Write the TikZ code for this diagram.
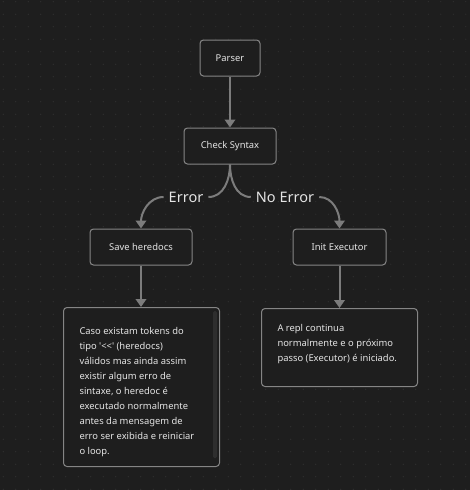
\documentclass[tikz,border=0pt]{standalone}
\usepackage{fontspec}
\setmainfont{Noto Sans}
\usetikzlibrary{arrows.meta}
\definecolor{bg}{HTML}{1E1E1E}
\definecolor{dotc}{HTML}{333333}
\definecolor{edgec}{HTML}{7C7C7C}
\definecolor{txt}{HTML}{E4E4E4}
\definecolor{bord}{HTML}{858585}
\definecolor{scrollc}{HTML}{2E2E2E}
\begin{document}
\begin{tikzpicture}[x=1pt,y=-1pt,
  box/.style={draw=bord, line width=1pt, rounded corners=3.5pt, fill=bg, text=txt,
    font=\fontsize{9.4}{15}\selectfont, inner sep=0pt, minimum height=36pt},
  tbox/.style={box, anchor=north west, inner xsep=16pt, inner ysep=0pt},
  lbl/.style={text=txt, font=\fontsize{14.5}{16}\selectfont, inner xsep=5pt, inner ysep=2pt},
  conn/.style={draw=edgec, line width=2pt, -{Triangle[length=8pt,width=10.5pt]}},
  plain/.style={draw=edgec, line width=2pt}]
\fill[bg] (0,0) rectangle (470,490);
\useasboundingbox (0,0) rectangle (470,490);
\foreach \i in {0,...,37} {
  \foreach \j in {0,...,39} {
    \fill[dotc] (3.3+12.5*\i, 1.7+12.5*\j) circle (0.6pt);
  }
}
\node[box, minimum width=60pt] (parser) at (230,58) {Parser};
\node[box, minimum width=92pt] (check) at (230,146) {Check Syntax};
\node[box, minimum width=102pt] (save) at (141,247) {Save heredocs};
\node[box, minimum width=93pt] (init) at (339.5,247) {Init Executor};
\node[tbox] (errtxt) at (63,307) {\begin{minipage}[c][159pt][t]{124pt}\raggedright
\vspace*{20pt}Caso existam tokens do\\
tipo \textquotesingle<{}<\textquotesingle\ (heredocs)\\
válidos mas ainda assim\\
existir algum erro de\\
sintaxe, o heredoc é\\
executado normalmente\\
antes da mensagem de\\
erro ser exibida e reiniciar\\
o loop.\end{minipage}};
\fill[scrollc, rounded corners=1.5pt] (213,311) rectangle (217,458);
\node[tbox] (oktxt) at (261,308) {\begin{minipage}[c][78pt][t]{124pt}\raggedright
\vspace*{15.5pt}A repl continua\\
normalmente e o próximo\\
passo (Executor) é iniciado.\end{minipage}};
\node[lbl] (errl) at (186,197) {Error};
\node[lbl] (noerrl) at (285,197) {No Error};
\draw[conn] (parser) -- (check);
\draw[plain] (check.south) to[out=-90,in=0] (errl.east);
\draw[conn] (errl.west) to[out=180,in=90] (save.north);
\draw[plain] (check.south) to[out=-90,in=180] (noerrl.west);
\draw[conn] (noerrl.east) to[out=0,in=90] (init.north);
\draw[conn] (save) -- (errtxt.north -| save);
\draw[conn] (init) -- (oktxt.north -| init);
\end{tikzpicture}
\end{document}
